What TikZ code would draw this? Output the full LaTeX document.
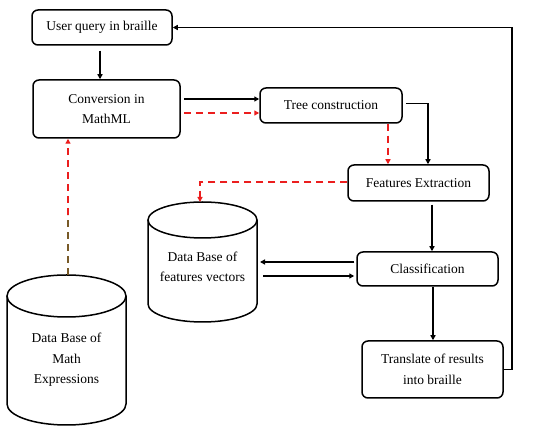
\documentclass[tikz,border=0pt]{standalone}
\usepackage{fontspec}
\setmainfont{Liberation Serif}
\usetikzlibrary{arrows.meta,calc}
\definecolor{dred}{RGB}{235,30,30}
\definecolor{dbrown}{RGB}{120,90,40}
\tikzset{
  box/.style={draw, line width=1.5pt, rounded corners=6pt, align=center, inner sep=0pt,
    font=\fontsize{13.5}{20.5}\selectfont},
  lbl/.style={align=center, inner sep=0pt, font=\fontsize{13.5}{20.5}\selectfont},
  arr/.style={line width=1.5pt, -{Triangle[length=5pt,width=5pt]}},
  rarr/.style={line width=1.5pt, draw=dred, dash pattern=on 7pt off 5pt, -{Triangle[length=5pt,width=5pt]}},
  cyl/.style={line width=1.5pt}
}
\begin{document}
\begin{tikzpicture}[x=1pt,y=-1pt]
\useasboundingbox (0,0) rectangle (550,430);
% boxes
\node[box, minimum width=140pt, minimum height=35pt] (user) at (102,27.5) {User query in braille};
\node[box, minimum width=147pt, minimum height=58pt] (conv) at (106.5,109) {Conversion in\\MathML};
\node[box, minimum width=142pt, minimum height=35pt] (tree) at (331,105.5) {Tree construction};
\node[box, minimum width=141pt, minimum height=36pt] (feat) at (418.5,183) {Features Extraction};
\node[box, minimum width=141pt, minimum height=34pt] (class) at (427.5,269) {Classification};
\node[box, minimum width=141pt, minimum height=57pt] (trans) at (432.5,369.5) {Translate of results\\into braille};
% cylinder: features vectors
\draw[cyl] (148,220) -- (148,304) arc[start angle=180,end angle=360,x radius=54.5pt,y radius=18pt] -- (257,220);
\draw[cyl] (202.5,220) ellipse [x radius=54.5pt, y radius=18pt];
\node[lbl] (dbf) at (202.5,267) {Data Base of\\features vectors};
\coordinate (dbftop) at (200,202);
\coordinate (dbfR1) at (257,262);
\coordinate (dbfR2) at (257,276);
% cylinder: math expressions
\draw[cyl] (7,296) -- (7,404) arc[start angle=180,end angle=360,x radius=59.5pt,y radius=21pt] -- (126,296);
\draw[cyl] (66.5,296) ellipse [x radius=59.5pt, y radius=21pt];
\node[lbl] (mdb) at (66.5,360) {Data Base of\\Math\\Expressions};
\coordinate (mdbtop) at (68,296);
\coordinate (mid) at (68,215);
% connectors
\draw[arr, shorten <=5pt] (user.south -| 100,0) -- (conv.north -| 100,0);
\draw[arr, shorten <=3pt] (conv.east |- 0,99) -- (tree.west |- 0,99);
\draw[rarr, shorten <=3pt] (conv.east |- 0,113) -- (tree.west |- 0,113);
\draw[arr] ($(tree.east)+(3,-2)$) -| (feat.north -| 428,0);
\draw[rarr] (tree.south -| 388,0) -- (feat.north -| 388,0);
\draw[rarr] (feat.west |- 0,182) -| (dbftop);
\draw[arr, shorten <=3pt] (feat.south -| 432,0) -- (class.north -| 432,0);
\draw[arr, shorten <=2pt, shorten >=3pt] (class.west |- 0,262) -- (dbfR1);
\draw[arr, shorten <=6pt, shorten >=2pt] (dbfR2) -- (class.west |- 0,276);
\draw[arr] (class.south -| 433,0) -- (trans.north -| 433,0);
\draw[arr] (trans.east) -- (512,369.5) |- (user.east);
\draw[line width=1.5pt, draw=dbrown, dash pattern=on 7pt off 5pt] (68,275) -- (mid);
\draw[rarr] (mid) -- (conv.south -| 68,0);
\end{tikzpicture}
\end{document}
